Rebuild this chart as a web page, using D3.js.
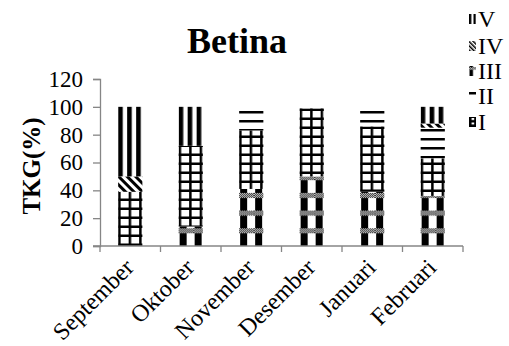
<!DOCTYPE html>
<html>
<head>
<meta charset="utf-8">
<script src="https://cdn.jsdelivr.net/npm/d3@7"></script>
<style>
  html, body { margin: 0; padding: 0; background: #fff; }
  svg { display: block; font-family: "Liberation Serif", "Times New Roman", serif; }
  text { font-family: "Liberation Serif", "Times New Roman", serif; fill: #000; }
</style>
</head>
<body>
<svg id="chart" width="509" height="346"></svg>
<script>
// ---- data ----
const categories = ["September", "Oktober", "November", "Desember", "Januari", "Februari"];
const seriesNames = ["I", "II", "III", "IV", "V"];
const valuesI   = [39, 58, 42, 49, 47, 27];
const valuesII  = [0, 0, 17, 1, 14, 22];
const valuesIII = [0, 14, 41, 50, 39, 36];
const valuesIV  = [11, 0, 0, 0, 0, 3];
const valuesV   = [50, 28, 0, 0, 0, 12];
const yTicks = [0, 20, 40, 60, 80, 100, 120];
const stackOrder = ["III", "I", "II", "IV", "V"];   // bottom to top as drawn
const legendOrder = ["V", "IV", "III", "II", "I"];

const seriesValues = { I: valuesI, II: valuesII, III: valuesIII, IV: valuesIV, V: valuesV };
const table = categories.map((c, i) => {
  const row = { category: c };
  seriesNames.forEach(s => row[s] = seriesValues[s][i]);
  return row;
});

const serif = '"Liberation Serif", "Times New Roman", serif';
const svg = d3.select("#chart");
const x = d3.scaleBand().domain(categories).range([100, 463]).paddingInner(0.6).paddingOuter(0.3);
const y = d3.scaleLinear().domain([0, 120]).range([246, 79]);
const axisColor = "#868686";

const defs = svg.append("defs");
// fine checker used for dotted bands
const dots = defs.append("pattern").attr("id", "dots").attr("patternUnits", "userSpaceOnUse")
  .attr("width", 2).attr("height", 2);
dots.append("rect").attr("width", 2).attr("height", 2).attr("fill", "#fff");
dots.append("rect").attr("width", 1).attr("height", 1).attr("fill", "#000");
dots.append("rect").attr("x", 1).attr("y", 1).attr("width", 1).attr("height", 1).attr("fill", "#000");

function makePattern(id, s, x0, y0, k) {
  k = k || 1;
  const p = defs.append("pattern").attr("id", id).attr("patternUnits", "userSpaceOnUse");
  if (s === "V") {
    p.attr("width", 9 * k).attr("height", 4).attr("patternTransform", `translate(${x0},0)`);
    p.append("rect").attr("width", 9 * k).attr("height", 4).attr("fill", "#fff");
    p.append("rect").attr("width", 4.6 * k).attr("height", 4).attr("fill", "#000");
  } else if (s === "IV") {
    p.attr("width", 6 * k).attr("height", 6).attr("patternTransform", `translate(${x0},${y0}) rotate(-45)`);
    p.append("rect").attr("width", 6 * k).attr("height", 6).attr("fill", "#fff");
    p.append("rect").attr("width", 3 * k).attr("height", 6).attr("fill", "#000");
  } else if (s === "III") {
    const h = 17.7 * k;
    p.attr("width", 15 * k).attr("height", h).attr("patternTransform", `translate(${x0},${y0 - h})`);
    p.append("rect").attr("width", 15 * k).attr("height", h).attr("fill", "#fff");
    p.append("rect").attr("y", 0).attr("width", 15 * k).attr("height", 5 * k).attr("fill", "url(#dots)");
    p.append("rect").attr("x", 1 * k).attr("y", 5 * k).attr("width", 7 * k).attr("height", h - 5 * k).attr("fill", "#000");
  } else if (s === "II") {
    p.attr("width", 4).attr("height", 9).attr("patternTransform", `translate(${x0},${y0})`);
    p.append("rect").attr("width", 4).attr("height", 9).attr("fill", "#fff");
    p.append("rect").attr("width", 4).attr("height", 2.5).attr("fill", "#000");
  } else if (s === "I") {
    p.attr("width", 10.5 * k).attr("height", 9 * k).attr("patternTransform", `translate(${x0},${y0})`);
    p.append("rect").attr("width", 10.5 * k).attr("height", 9 * k).attr("fill", "#fff");
    p.append("rect").attr("width", 2.5).attr("height", 9 * k).attr("fill", "#000");
    p.append("rect").attr("y", 9 * k - 2.5).attr("width", 10.5 * k).attr("height", 2.5).attr("fill", "#000");
  }
  return id;
}

// ---- axes ----
const gy = svg.append("g").attr("transform", "translate(100,0)")
  .call(d3.axisLeft(y).tickValues(yTicks).tickSize(7).tickPadding(10));
gy.attr("font-family", null).attr("font-size", null);
gy.select(".domain").attr("stroke", axisColor).attr("stroke-width", 1.3);
gy.selectAll(".tick line").attr("stroke", axisColor).attr("stroke-width", 1.3);
gy.selectAll(".tick text").style("font-family", serif).style("font-size", "23px").attr("fill", "#000");

// ---- bars ----
const stack = d3.stack().keys(stackOrder)(table);
stack.forEach(layer => {
  const s = layer.key;
  layer.forEach((d, i) => {
    if (d[1] - d[0] <= 0) return;
    const bx = x(categories[i]);
    const id = makePattern(`p-${s}-${i}`, s, bx, 246);
    svg.append("rect")
      .attr("x", bx).attr("width", x.bandwidth())
      .attr("y", y(d[1])).attr("height", y(d[0]) - y(d[1]))
      .attr("fill", `url(#${id})`);
  });
});

// x axis drawn on top
const gx = svg.append("g").attr("transform", "translate(0,246)");
gx.append("line").attr("x1", 93).attr("x2", 463).attr("stroke", axisColor).attr("stroke-width", 1.3);
const boundaries = categories.map(c => x(c) - x.step() * x.paddingOuter()).concat([463]);
gx.selectAll("line.tk").data(boundaries).join("line").attr("class", "tk")
  .attr("x1", d => d).attr("x2", d => d).attr("y1", 0).attr("y2", 6)
  .attr("stroke", axisColor).attr("stroke-width", 1.3);
gx.selectAll("text").data(categories).join("text")
  .attr("transform", d => `translate(${x(d) + x.bandwidth() / 2 - 1},${17}) rotate(-45)`)
  .attr("text-anchor", "end").attr("dy", "0.35em")
  .style("font-family", serif).style("font-size", "24px")
  .text(d => d);

// ---- title & axis label ----
svg.append("text").attr("x", 237).attr("y", 53).attr("text-anchor", "middle")
  .style("font-family", serif).style("font-size", "36px").style("font-weight", "bold").text("Betina");
svg.append("text").attr("transform", "translate(40,166) rotate(-90)").attr("text-anchor", "middle")
  .style("font-family", serif).style("font-size", "25px").style("font-weight", "bold").text("TKG(%)");

// ---- legend ----
const legendY = [19, 46, 71, 96, 122];
legendOrder.forEach((s, i) => {
  const cy = legendY[i];
  const id = makePattern(`leg-${s}`, s, 469, cy + 5, 0.5);
  svg.append("rect").attr("x", 469).attr("y", cy - 5).attr("width", 7).attr("height", 10)
    .attr("fill", `url(#${id})`);
  svg.append("text").attr("x", 478).attr("y", cy).attr("dy", "0.35em")
    .style("font-family", serif).style("font-size", "24px").text(s);
});
</script>
</body>
</html>
